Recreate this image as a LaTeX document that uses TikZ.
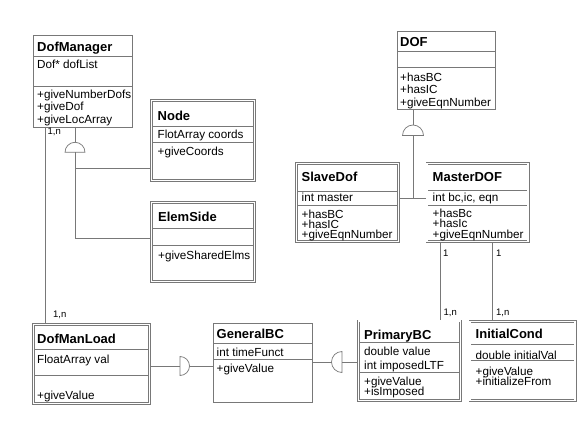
\documentclass[tikz,border=0pt]{standalone}
\usepackage{fontspec}
\setmainfont{Liberation Sans}
\usetikzlibrary{calc}
\definecolor{lc}{RGB}{120,120,120}
\begin{document}
\begin{tikzpicture}[x=1pt,y=-1pt,
  line/.style={draw=lc, line width=0.7pt},
  sgl/.style={draw=lc, line width=0.7pt, anchor=north west, inner sep=0pt, outer sep=0pt},
  dbl/.style={draw=lc, line width=0.6pt, double=white, double distance=1.6pt, anchor=north west, inner sep=0pt, outer sep=1.4pt},
  ttl/.style={anchor=base west, inner sep=0pt, font=\fontsize{13}{15}\selectfont\bfseries},
  txt/.style={anchor=base west, inner sep=0pt, font=\fontsize{11.7}{13}\selectfont},
  lbl/.style={anchor=west, inner sep=0pt, font=\fontsize{9.5}{11}\selectfont}
]
\useasboundingbox[fill=white] (0,0) rectangle (577,446);

% ---------- DofManager (single)
\node[sgl, minimum width=99pt, minimum height=92pt] (dm) at (33,35) {};
\draw[line] (33,56) -- (132,56);
\draw[line] (33,86.5) -- (132,86.5);
\node[ttl] (dmT) at (37,51.7) {DofManager};
\node[txt] (dmA) at (37,68.7) {Dof* dofList};
\node[txt] (dmM1) at (37,98.2) {+giveNumberDofs};
\node[txt] (dmM2) at (37,110.7) {+giveDof};
\node[txt] (dmM3) at (37,123.2) {+giveLocArray};

% ---------- Node (double)
\node[dbl, minimum width=103.2pt, minimum height=80.2pt] (nd) at (150,99) {};
\draw[line] (152.5,126.5) -- (253.5,126.5);
\draw[line] (152.5,142) -- (253.5,142);
\node[ttl] (ndT) at (157.5,120.2) {Node};
\node[txt] (ndA) at (157.5,138.7) {FlotArray coords};
\node[txt] (ndM) at (157.5,155.7) {+giveCoords};

% ---------- ElemSide (double)
\node[dbl, minimum width=103.2pt, minimum height=79.2pt] (es) at (150,201) {};
\draw[line] (152.5,228) -- (253.5,228);
\draw[line] (152.5,245) -- (253.5,245);
\node[ttl] (esT) at (158,221.2) {ElemSide};
\node[txt] (esM) at (158,259.2) {+giveSharedElms};

% ---------- DOF (single)
\node[sgl, minimum width=98pt, minimum height=78pt] (dof) at (397,31) {};
\draw[line] (397,51) -- (495,51);
\draw[line] (397,67) -- (495,67);
\node[ttl] (dofT) at (400,46.2) {DOF};
\node[txt] (dofM1) at (400,81.2) {+hasBC};
\node[txt] (dofM2) at (400,93.7) {+hasIC};
\node[txt] (dofM3) at (400,106.2) {+giveEqnNumber};

% ---------- SlaveDof (double)
\node[dbl, minimum width=102.2pt, minimum height=78.2pt] (sd) at (295,162) {};
\draw[line] (297.5,191) -- (397.5,191);
\draw[line] (297.5,205) -- (397.5,205);
\node[ttl] (sdT) at (301.5,181.2) {SlaveDof};
\node[txt] (sdA) at (301.5,201.7) {int master};
\node[txt] (sdM1) at (301.5,218.2) {+hasBC};
\node[txt] (sdM2) at (301.5,228.2) {+hasIC};
\node[txt] (sdM3) at (301.5,238.2) {+giveEqnNumber};

% ---------- MasterDOF (double)
\node[dbl, minimum width=101.2pt, minimum height=78.2pt] (md) at (425.5,162) {};
\draw[line] (428,190) -- (527,190);
\draw[line] (428,205) -- (527,205);
\node[ttl] (mdT) at (432.5,181.2) {MasterDOF};
\node[txt] (mdA) at (432.5,201.7) {int bc,ic, eqn};
\node[txt] (mdM1) at (432.5,217.7) {+hasBc};
\node[txt] (mdM2) at (432.5,227.7) {+hasIc};
\node[txt] (mdM3) at (432.5,238.2) {+giveEqnNumber};

% ---------- DofManLoad (double)
\node[dbl, minimum width=116.2pt, minimum height=79.2pt] (dml) at (32,323) {};
\draw[line] (34.5,349) -- (148.5,349);
\draw[line] (34.5,375.5) -- (148.5,375.5);
\node[ttl] (dmlT) at (37,343.2) {DofManLoad};
\node[txt] (dmlA) at (37,363.2) {FloatArray val};
\node[txt] (dmlM) at (37,399.2) {+giveValue};

% ---------- GeneralBC (single)
\node[sgl, minimum width=99pt, minimum height=79pt] (gbc) at (213,323) {};
\draw[line] (213,343) -- (312,343);
\draw[line] (213,359) -- (312,359);
\node[ttl] (gbcT) at (216.5,338.2) {GeneralBC};
\node[txt] (gbcA) at (216.5,356.2) {int timeFunct};
\node[txt] (gbcM) at (216.5,372.2) {+giveValue};

% ---------- PrimaryBC (double)
\node[dbl, minimum width=102.2pt, minimum height=79.7pt] (pbc) at (357,319.5) {};
\draw[line] (359.5,342.5) -- (459.5,342.5);
\draw[line] (359.5,372.5) -- (459.5,372.5);
\node[ttl] (pbcT) at (364,339.7) {PrimaryBC};
\node[txt] (pbcA1) at (364,355.7) {double value};
\node[txt] (pbcA2) at (364,369.2) {int imposedLTF};
\node[txt] (pbcM1) at (364,385.7) {+giveValue};
\node[txt] (pbcM2) at (364,395.7) {+isImposed};

% ---------- InitialCond (double)
\node[dbl, minimum width=105.2pt, minimum height=79.2pt] (ic) at (468.5,320) {};
\draw[line] (471,344) -- (574,344);
\draw[line] (471,360.5) -- (574,360.5);
\node[ttl] (icT) at (475.5,338.7) {InitialCond};
\node[txt] (icA) at (475.5,359.7) {double initialVal};
\node[txt] (icM1) at (475.5,375.7) {+giveValue};
\node[txt] (icM2) at (475.5,385.7) {+initializeFrom};

% ---------- inheritance markers
\coordinate (h1) at (75,152.3);
\coordinate (h1top) at (75,142.3);
\draw[line] (h1) ++(-10,0) arc[start angle=180, end angle=0, radius=10pt] -- cycle;
\coordinate (h2) at (413,135.5);
\coordinate (h2top) at (413,125);
\draw[line] (h2) ++(-10.5,0) arc[start angle=180, end angle=0, radius=10.5pt] -- cycle;
\coordinate (h3) at (180,366);
\coordinate (h3tip) at (189.5,366);
\draw[line] (h3) ++(0,-9.5) arc[start angle=90, end angle=-90, radius=9.5pt] -- cycle;
\coordinate (h4) at (342,362);
\coordinate (h4tip) at (331.5,362);
\draw[line] (h4) ++(0,-10.5) arc[start angle=90, end angle=270, radius=10.5pt] -- cycle;
\coordinate (j2) at (413,198.3);

% ---------- connectors
\draw[line] ([xshift=12pt]dm.south west) -- ([xshift=13pt]dml.north west);
\draw[line] ([xshift=42pt]dm.south west) -- (h1top);
\draw[line] (h1) |- ([yshift=-69.5pt]nd.north west);
\draw[line] (h1) |- ([yshift=-37pt]es.north west);
\draw[line] ([xshift=16pt]dof.south west) -- (h2top);
\draw[line] (h2) -- (j2);
\draw[line] ([yshift=-36.3pt]sd.north east) -- ([yshift=-36.3pt]md.north west);
\draw[line] ([yshift=-43pt]dml.north east) -- (h3);
\draw[line] (h3tip) -- ([yshift=-43pt]gbc.north west);
\draw[line] ([yshift=-39pt]gbc.north east) -- (h4tip);
\draw[line] (h4) -- ([yshift=-42.5pt]pbc.north west);
\draw[line] ([xshift=14.5pt]md.south west) -- ([xshift=83pt]pbc.north west);
\draw[line] ([xshift=66.5pt]md.south west) -- ([xshift=23.5pt]ic.north west);

% ---------- multiplicities
\node[lbl] (l1) at (47.5,132.3) {1,n};
\node[lbl] (l2) at (53,315) {1,n};
\node[lbl] (l3) at (443,253) {1};
\node[lbl] (l4) at (496,253) {1};
\node[lbl] (l5) at (443.5,313) {1,n};
\node[lbl] (l6) at (496,313) {1,n};
\end{tikzpicture}
\end{document}
